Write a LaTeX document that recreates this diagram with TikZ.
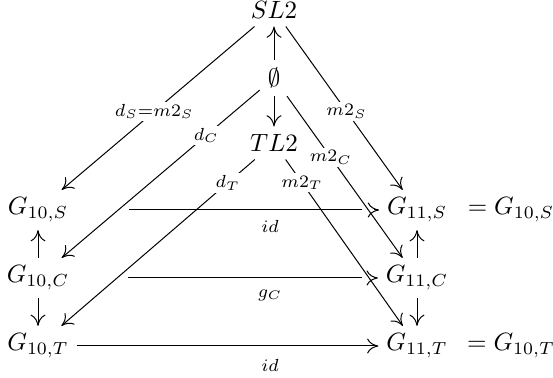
\documentclass[tikz,border=0pt]{standalone}
\usetikzlibrary{arrows.meta}
\begin{document}
\begin{tikzpicture}[x=0.4pt,y=-0.4pt,
  obj/.style={inner sep=3pt},
  lbl/.style={fill=white,inner sep=1pt},
  hlbl/.style={inner sep=0pt},
  >={Computer Modern Rightarrow[length=4.5pt,width=6pt]}, line width=0.4pt]
\useasboundingbox (0,0) rectangle (553,378);
% objects
\node[obj] (SL) at (274,10) {$SL2$};
\node[obj] (E)  at (274,78) {$\emptyset$};
\node[obj] (TL) at (274,143) {$TL2$};
\node[obj] (GS) at (38,210) {$G_{10,S}$};
\node[obj] (GC) at (38,278) {$G_{10,C}$};
\node[obj] (GT) at (38,346) {$G_{10,T}$};
\node[obj] (HS) at (417,210) {$G_{11,S}$};
\node[obj] (HC) at (417,278) {$G_{11,C}$};
\node[obj] (HT) at (417,346) {$G_{11,T}$};
\node[obj] (QS) at (511,210) {$= G_{10,S}$};
\node[obj] (QT) at (511,346) {$= G_{10,T}$};
% vertical arrows
\draw[->] (E) -- (SL);
\draw[->] (E) -- (TL);
\draw[->] (GC) -- (GS);
\draw[->] (GC) -- (GT);
\draw[->] (HC) -- (HS);
\draw[->] (HC) -- (HT);
% diagonal arrows
\draw[->] (SL) -- node[lbl,pos=0.52] {$\scriptstyle d_S=m2_S$} (GS);
\draw[->] (SL) -- node[lbl,pos=0.52] {$\scriptstyle m2_S$} (HS);
\draw[->] (E) -- node[lbl,pos=0.27] {$\scriptstyle d_C$} (GC);
\draw[->] (E) -- node[lbl,pos=0.38] {$\scriptstyle m2_C$} (HC);
\draw[->] (TL) -- node[lbl,pos=0.14] {$\scriptstyle d_T$} (GT);
\draw[->] (TL) -- node[lbl,pos=0.14] {$\scriptstyle m2_T$} (HT);
% horizontal arrows
\coordinate (s1) at (129,210);
\coordinate (s2) at (362,210);
\coordinate (s3) at (374,210);
\coordinate (c1) at (128,278);
\coordinate (c2) at (362,278);
\coordinate (c3) at (374,278);
\draw (s1) -- (s2);
\draw[->] (s3) -- (HS);
\node[hlbl] (idS) at (270,226) {$\scriptstyle id$};
\draw (c1) -- (c2);
\draw[->] (c3) -- (HC);
\node[hlbl] (gC) at (270,295) {$\scriptstyle g_C$};
\draw[->] (GT) -- (HT);
\node[hlbl] (idT) at (270,365) {$\scriptstyle id$};
\end{tikzpicture}
\end{document}
